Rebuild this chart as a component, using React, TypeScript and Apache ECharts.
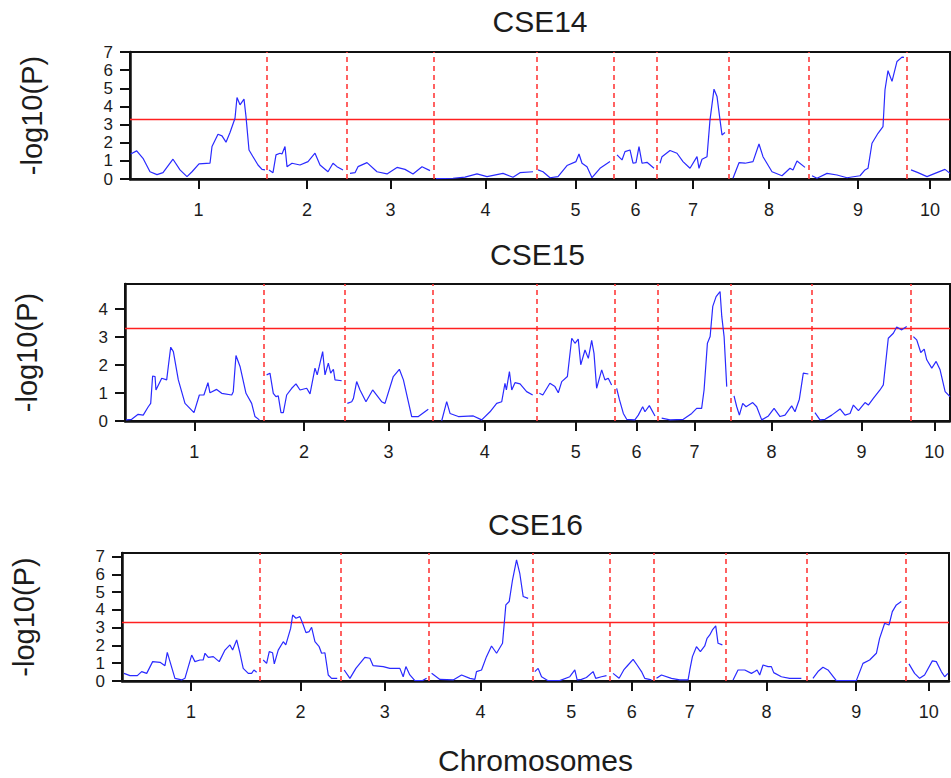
import React, { useEffect, useRef } from "react";
import * as echarts from "echarts";

// ---------- data ----------
const chromosomes = ["1", "2", "3", "4", "5", "6", "7", "8", "9", "10"];
const chrLengths = [137, 80, 87, 103, 77, 43, 72, 80, 98, 46];
const threshold = 3.3;
const panelTitles = ["CSE14", "CSE15", "CSE16"];
const yAxisMax = [7, 4.9, 7.2];
const yTickValues = [
  [0, 1, 2, 3, 4, 5, 6, 7],
  [0, 1, 2, 3, 4],
  [0, 1, 2, 3, 4, 5, 6, 7],
];
const xAxisMax = [820, 815.5, 820];

// each panel: one array per chromosome of [position, -log10(P)]
const cse14: number[][][] = [
  [[0.7,1.38],[6.7,1.55],[13,1.14],[20,0.4],[27,0.24],[33,0.35],[43,1.09],[50,0.5],[57,0.13],[62,0.4],[69,0.83],[80,0.87],[82,1.79],[88,2.47],[92,2.38],[96,2.03],[100,2.56],[105,3.35],[107,4.49],[110,4.09],[114,4.4],[116,3.44],[119,1.6],[123,1.23],[128,0.77],[132,0.53],[135,0.5]],
  [[139,0.5],[143,0.35],[146,1.33],[150,1.42],[152,1.38],[155,1.79],[157,0.68],[162,0.87],[170,0.77],[178,0.96],[185,1.42],[190,0.77],[198,0.4],[203,0.87],[207,0.68],[213,0.5]],
  [[220,0.31],[225,0.35],[228,0.68],[237,0.9],[247,0.4],[257,0.28],[267,0.64],[275,0.53],[283,0.28],[292,0.68],[300,0.46]],
  [[306,0.02],[323,0.04],[335,0.1],[347,0.28],[357,0.13],[373,0.31],[383,0.1],[390,0.35],[403,0.4]],
  [[408,0.5],[413,0.4],[420,0.07],[428,0.13],[437,0.74],[446,0.96],[449,1.38],[452,0.87],[457,0.68],[462,0.07],[470,0.59],[480,0.96]],
  [[487,1.33],[492,1.05],[495,1.51],[500,1.6],[503,0.87],[506,0.9],[509,1.79],[512,0.87],[517,0.92],[524,0.59]],
  [[530,0.87],[532,1.23],[540,1.57],[547,1.42],[553,0.96],[560,0.59],[567,1.23],[569,0.59],[572,1.09],[577,1.23],[580,3.26],[584,4.95],[587,4.55],[590,3.26],[592,2.43],[595,2.56]],
  [[603,0.04],[609,0.9],[615,0.87],[623,0.96],[629,1.93],[633,1.23],[642,0.4],[652,0.18],[660,0.59],[663,0.5],[667,0.99],[675,0.64]],
  [[682,0.18],[687,0.04],[697,0.31],[707,0.22],[717,0.07],[730,0.18],[735,0.5],[738,0.59],[742,1.97],[748,2.52],[753,2.89],[755,4.92],[758,5.97],[762,5.38],[767,6.48],[772,6.72],[774,6.7]],
  [[781,0.5],[788,0.35],[797,0.13],[805,0.31],[815,0.53],[820,0.31]],
];

const cse15: number[][][] = [
  [[1,0.04],[6.6,0.06],[13,0.24],[18,0.21],[23,0.51],[25.4,0.63],[27.3,1.61],[29.7,1.59],[30.6,1.11],[36.3,1.53],[41.2,1.47],[42.8,1.95],[45.2,2.64],[47.8,2.48],[52.7,1.47],[59.3,0.63],[61,0.57],[68.2,0.3],[73.5,0.93],[78,0.93],[82,1.37],[84,1.01],[90.6,1.13],[95.6,0.99],[105.5,0.93],[107,1.05],[109.7,2.34],[113.7,1.95],[119.6,0.99],[125.2,0.63],[128.5,0.16],[132.8,0.04]],
  [[140,1.65],[143.3,1.71],[146.6,0.99],[149.2,0.87],[151.5,0.9],[154.2,0.3],[156.5,0.3],[159.8,0.93],[164.8,1.17],[169,1.33],[173,1.11],[179.6,1.17],[182.9,0.97],[187.8,1.89],[190,1.65],[192,1.95],[195.4,2.48],[197.7,1.65],[201,2.07],[203.3,1.71],[206,1.85],[207.6,1.47],[214.2,1.44]],
  [[219.8,0.63],[224.1,0.69],[225.8,0.81],[229,1.41],[232.3,1.11],[238.2,0.69],[244.8,1.11],[253.7,0.69],[257,0.63],[265.2,1.59],[271.2,1.85],[275.2,1.47],[283.4,0.16],[290,0.16],[299.8,0.42]],
  [[313,0],[318,0.69],[321.3,0.27],[329.5,0.16],[344.3,0.18],[352.6,0.04],[360.8,0.33],[367.4,0.63],[372.4,0.69],[375.6,1.35],[377,1.11],[380,1.77],[382.3,1.11],[385.5,1.37],[390.5,1.33],[397,1.05],[403,0.93]],
  [[409.6,0.99],[413,0.93],[420,1.35],[425,1.23],[428.3,1.01],[431.7,1.41],[437.3,1.59],[441.6,2.96],[444.8,2.78],[448,2.93],[450.5,2.01],[454.7,2.54],[458,2.24],[461.3,2.88],[463.6,2.42],[466.2,1.17],[471.2,1.83],[474.4,1.47],[477.7,1.53],[481,1.29]],
  [[486,1.17],[488.6,0.78],[492.6,0.27],[495.9,0.06],[504,0.04],[507.4,0.21],[511.7,0.51],[514,0.33],[518.3,0.55],[523.9,0.18]],
  [[530.5,0.1],[538.7,0.04],[551.9,0.06],[560.2,0.27],[565.1,0.45],[570,0.45],[572.4,1.11],[575.7,2.78],[578.4,3.02],[581,4.1],[584.3,4.45],[588.2,4.63],[589.9,3.74],[592.2,3.02],[594.8,1.23]],
  [[602,0.9],[604.7,0.51],[607.3,0.21],[610.6,0.63],[613.9,0.51],[620.5,0.66],[624.4,0.51],[629.4,0.04],[636,0.18],[641.6,0.45],[647.5,0.16],[652.4,0.21],[659,0.54],[662.3,0.33],[666.6,0.78],[670.5,1.71],[675.5,1.68]],
  [[682,0.3],[687,0.04],[692,0.06],[698.6,0.21],[706.8,0.43],[711.7,0.21],[716.7,0.27],[720,0.57],[725,0.37],[731.5,0.66],[734.8,0.57],[739.7,0.81],[746.3,1.11],[749.6,1.29],[754.5,2.96],[759.5,3.14],[762.8,3.36],[767.8,3.26],[772.7,3.38]],
  [[779.3,3.02],[782.6,2.9],[786.6,2.45],[790,2.57],[792.5,2.19],[797.5,1.89],[801.8,2.13],[805.7,1.83],[810.7,1.05],[815.5,0.87]],
];

const cse16: number[][][] = [
  [[2,0.43],[7.9,0.3],[15.2,0.3],[19.5,0.53],[24.5,0.43],[30.4,1.09],[37.7,1.05],[42.6,0.86],[44.9,1.61],[47.6,1.09],[52.5,0.15],[59.2,0.06],[62.4,0.15],[69.1,1.46],[72.3,1.09],[77.3,1.18],[80.5,1.18],[82.3,1.56],[85.6,1.33],[90.5,1.37],[96.4,1.09],[102.1,1.74],[107,2.03],[109.7,1.74],[113.7,2.31],[117,1.56],[120.2,0.71],[125.2,0.43],[128.5,0.43],[130.8,0.62],[133.5,0.49]],
  [[140,1.18],[143.4,0.99],[146,1.65],[149.3,1.59],[151,0.96],[154.9,1.74],[159.9,2.21],[162.4,2.03],[167.2,2.96],[169.2,3.71],[172.5,3.53],[176.4,3.62],[179.1,3.25],[182.4,2.72],[185.6,2.78],[188,3.02],[191.3,2.21],[195.5,1.93],[197.9,1.56],[201.2,1.59],[204.5,0.34],[207.8,0.15],[213.4,0.15]],
  [[220.3,0.62],[226,0.15],[231.9,0.71],[240.8,1.33],[245.8,1.28],[249,0.86],[259,0.81],[265.6,0.71],[275.5,0.71],[278.8,0.24],[281.5,0.81],[285.4,0.34],[290.4,0.02],[298,0.02],[302,0.15]],
  [[307,0.43],[315.2,0.09],[328.4,0.06],[336.7,0.34],[345,0.15],[349.9,0.09],[351.5,0.53],[356.5,0.62],[361.4,1.37],[366.4,1.97],[371.4,1.56],[377.3,2.12],[380.6,4.28],[383.9,4.47],[387.2,5.68],[391.2,6.81],[394.4,6.06],[397.8,4.75],[402.7,4.65]],
  [[409.3,0.53],[412.6,0.71],[416,0.24],[422.5,0.02],[434,0.02],[444,0.24],[449,0.62],[451.3,0.06],[455.6,0.09],[460.5,0.2],[467.1,0.53],[469.7,0.15],[475.4,0.24],[480.4,0.3]],
  [[486.9,0.43],[492.9,0.15],[497.5,0.62],[501.8,0.9],[506.8,1.22],[510.7,0.9],[515.1,0.53],[518.3,0.15],[525,0.06]],
  [[530,0.15],[534.9,0.34],[544.8,0.15],[553,0.06],[561.3,0.06],[563,0.62],[565.6,1.37],[569.6,1.93],[573.5,1.65],[577.8,1.97],[580.1,2.4],[582.8,2.59],[585.4,2.87],[588.7,3.1],[591,2.12],[595.3,2.03]],
  [[605.9,0.06],[610.8,0.62],[617.5,0.62],[624.1,0.43],[627.4,0.53],[629.7,0.62],[632.3,0.34],[635.6,0.9],[640.6,0.81],[643.9,0.81],[646.2,0.47],[653.8,0.24],[662,0.15],[673.6,0.15]],
  [[685.1,0.15],[690.1,0.53],[695,0.77],[700,0.62],[708.3,0.02],[728.1,0.02],[734.7,0.99],[741.3,1.18],[748,1.56],[751.2,2.4],[756.2,3.25],[760.5,3.15],[763.8,3.9],[767.8,4.28],[772.7,4.47]],
  [[780.3,0.96],[785.9,0.43],[790.9,0.15],[795.8,0.34],[803.5,1.13],[807.4,1.09],[812.4,0.53],[815.7,0.24],[819,0.43]],
];

const panels = [cse14, cse15, cse16];

// ---------- layout ----------
const gridBoxes = [
  { left: 130, top: 52, width: 820, height: 127 },
  { left: 125, top: 284, width: 825, height: 137 },
  { left: 122, top: 553, width: 827, height: 128 },
];
const titleY = [21, 254, 524];
const FONT = "'Liberation Sans', Arial, Helvetica, sans-serif";
const TEXT = "#1c1c1c";

export default function App() {
  const ref = useRef<HTMLDivElement>(null);

  useEffect(() => {
    if (!ref.current) return;
    const chart = echarts.init(ref.current, undefined, { renderer: "svg" });

    const boundaries: number[] = [];
    const mids: number[] = [];
    let acc = 0;
    chrLengths.forEach((len, i) => {
      mids.push(acc + len / 2);
      acc += len;
      if (i < chrLengths.length - 1) boundaries.push(acc);
    });
    const labelFor = (v: number) => {
      const i = mids.findIndex((m) => Math.abs(m - v) < 0.01);
      return i >= 0 ? chromosomes[i] : "";
    };

    const grid = gridBoxes.map((g) => ({
      ...g,
      show: true,
      borderColor: "#111",
      borderWidth: 2,
      containLabel: false,
    }));

    const xAxis = gridBoxes.map((_, p) => ({
      type: "value",
      gridIndex: p,
      min: 0,
      max: xAxisMax[p],
      splitLine: { show: false },
      axisLine: { show: true, onZero: false, lineStyle: { color: "#111", width: 2.5 } },
      axisTick: {
        show: true,
        customValues: mids,
        length: 10,
        inside: false,
        lineStyle: { color: "#111", width: 2 },
      },
      axisLabel: {
        show: true,
        customValues: mids,
        formatter: (v: number) => labelFor(v),
        margin: 22,
        fontSize: 18,
        fontFamily: FONT,
        color: TEXT,
        showMinLabel: true,
        showMaxLabel: true,
      },
      name: p === 2 ? "Chromosomes" : "",
      nameLocation: "middle",
      nameGap: 64,
      nameTextStyle: { fontSize: 30, fontFamily: FONT, color: TEXT },
    }));

    const yAxis = gridBoxes.map((_, p) => ({
      type: "value",
      gridIndex: p,
      min: 0,
      max: yAxisMax[p],
      interval: 1,
      splitLine: { show: false },
      axisLine: { show: true, lineStyle: { color: "#111", width: 2.5 } },
      axisTick: {
        show: true,
        customValues: yTickValues[p],
        length: 10,
        lineStyle: { color: "#111", width: 2 },
      },
      axisLabel: {
        show: true,
        customValues: yTickValues[p],
        margin: 17,
        fontSize: 17,
        lineHeight: 16,
        fontFamily: FONT,
        color: TEXT,
        showMinLabel: true,
        showMaxLabel: true,
      },
      name: "-log10(P)",
      nameLocation: "middle",
      nameRotate: 90,
      nameGap: 84,
      nameTextStyle: { fontSize: 29, fontFamily: FONT, color: TEXT },
    }));

    const series: any[] = [];
    panels.forEach((panel, p) => {
      panel.forEach((chrData, c) => {
        const s: any = {
          type: "line",
          xAxisIndex: p,
          yAxisIndex: p,
          data: chrData,
          showSymbol: false,
          symbol: "none",
          silent: true,
          lineStyle: { color: "#2a2aff", width: 1.2 },
          z: 3,
        };
        if (c === 0) {
          s.markLine = {
            silent: true,
            symbol: ["none", "none"],
            label: { show: false },
            z: 2,
            data: [
              ...boundaries.map((b) => ({
                xAxis: b,
                lineStyle: { type: [5, 4], color: "#ff3b3b", width: 1.6 },
              })),
              {
                yAxis: threshold,
                lineStyle: { type: "solid", color: "#ff2020", width: 1.4 },
              },
            ],
          };
        }
        series.push(s);
      });
    });

    const graphic = panelTitles.map((t, p) => ({
      type: "text",
      x: gridBoxes[p].left + gridBoxes[p].width / 2,
      y: titleY[p],
      style: {
        text: t,
        fontSize: 30,
        fontFamily: FONT,
        fill: TEXT,
        textAlign: "center",
        textVerticalAlign: "middle",
      },
    }));

    chart.setOption({
      animation: false,
      backgroundColor: "#ffffff",
      grid,
      xAxis,
      yAxis,
      series,
      graphic,
    } as any);

    return () => chart.dispose();
  }, []);

  return (
    <div
      ref={ref}
      style={{ position: "fixed", left: 0, top: 0, width: 951, height: 778 }}
    />
  );
}
